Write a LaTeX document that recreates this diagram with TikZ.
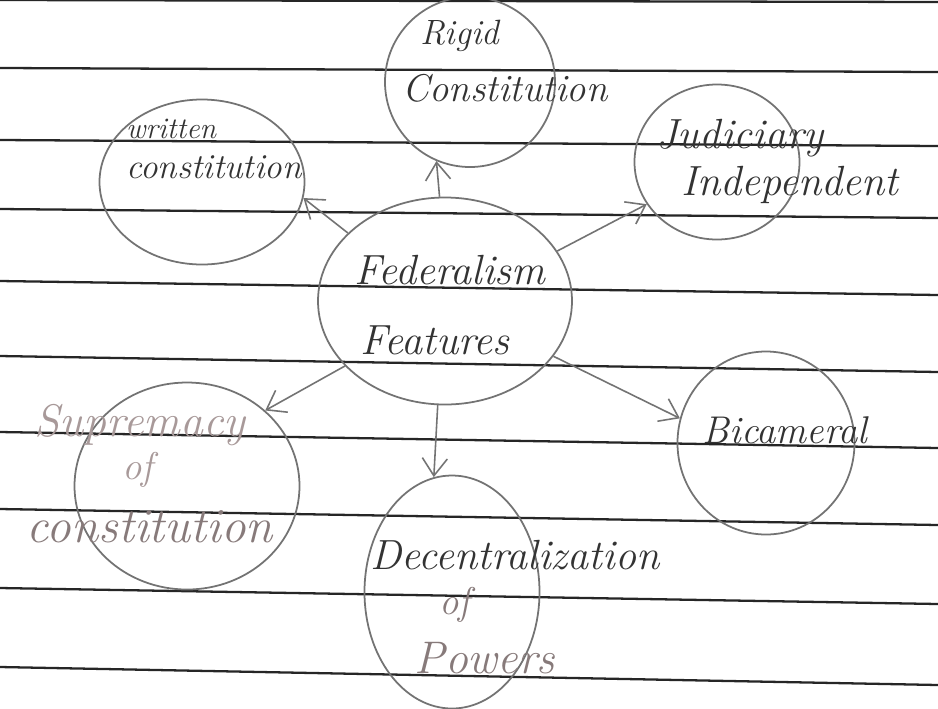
\documentclass[tikz,border=0pt]{standalone}
\usepackage{tikz}
\usetikzlibrary{arrows.meta,shapes.geometric}

\definecolor{pencil}{gray}{0.45}
\definecolor{ink}{gray}{0.2}
\definecolor{faded}{rgb}{0.66,0.6,0.6}

\begin{document}
\begin{tikzpicture}
\useasboundingbox[fill=white] (0,0) rectangle (18.76,-14.16);

% ruled paper
\foreach \l/\r in {0/0.04, 1.36/1.44, 2.8/2.92, 4.18/4.36, 5.62/5.9,
                   7.12/7.44, 8.64/8.96, 10.18/10.5, 11.76/12.08, 13.34/13.7}
    \draw[black!85, line width=1.3pt] (0,-\l) -- (18.76,-\r);

\begin{scope}[every node/.style={ellipse,draw=pencil,line width=1pt,inner sep=0pt}]
    \node[minimum width=5.08cm, minimum height=4.14cm] (fed) at (8.9,-6.02) {};
    \node[minimum width=3.4cm,  minimum height=3.4cm]  (rigid) at (9.4,-1.64) {};
    \node[minimum width=4.1cm,  minimum height=3.3cm]  (written) at (4.04,-3.64) {};
    \node[minimum width=3.3cm,  minimum height=3.1cm]  (judi) at (14.34,-3.24) {};
    \node[minimum width=3.54cm, minimum height=3.66cm] (bicam) at (15.32,-8.86) {};
    \node[minimum width=3.5cm,  minimum height=4.66cm] (decent) at (9.04,-11.84) {};
    \node[minimum width=4.5cm,  minimum height=4.14cm] (supre) at (3.74,-9.72) {};
\end{scope}

\begin{scope}[every node/.style={text=ink,font=\itshape\fontsize{22}{26}\selectfont}]
    \node[font=\itshape\fontsize{20}{24}\selectfont] (t-rigid) at (9.2,-0.72) {Rigid};
    \node (t-const) at (10.1,-1.76) {Constitution};
    \node[align=left,inner sep=1pt,font=\itshape\fontsize{20}{22}\selectfont] (t-written) at (4.28,-2.98)
        {{\fontsize{17}{22}\selectfont written}\\[1pt]constitution};
    \node[font=\itshape\fontsize{24}{28}\selectfont] (t-judi) at (14.8,-2.76) {Judiciary};
    \node[font=\itshape\fontsize{24}{28}\selectfont] (t-indep) at (15.8,-3.7) {Independent};
    \node (t-bicam) at (15.7,-8.6) {Bicameral};
    \node[font=\itshape\fontsize{24}{28}\selectfont] (t-fed) at (9.0,-5.4) {Federalism};
    \node[font=\itshape\fontsize{24}{28}\selectfont] (t-feat) at (8.7,-6.8) {Features};
    \node[text=faded,font=\itshape\fontsize{26}{30}\selectfont] (t-supre) at (2.8,-8.5) {Supremacy};
    \node[text=faded] (t-sof) at (2.76,-9.4) {of};
    \node[text=faded!80!black,font=\itshape\fontsize{28}{32}\selectfont] (t-sconst) at (3.0,-10.54) {constitution};
    \node[font=\itshape\fontsize{24}{28}\selectfont] (t-decent) at (10.3,-11.1) {Decentralization};
    \node[text=faded!80!black] (t-dof) at (9.1,-12.1) {of};
    \node[text=faded!80!black,font=\itshape\fontsize{26}{30}\selectfont] (t-powers) at (9.7,-13.16) {Powers};
\end{scope}

\begin{scope}[>={Straight Barb[length=3.5mm,width=5mm]},
              every edge/.style={draw=pencil,line width=0.9pt}]
    \path [->] (fed.93) edge (rigid.247);
    \path [->] (fed.145) edge (written.-9);
    \path [->] (fed.24) edge (judi.211);
    \path [->] (fed.-27) edge (bicam.164);
    \path [->] (fed.-94) edge (decent.99);
    \path [->] (fed.213) edge (supre.44);
\end{scope}
\end{tikzpicture}
\end{document}
